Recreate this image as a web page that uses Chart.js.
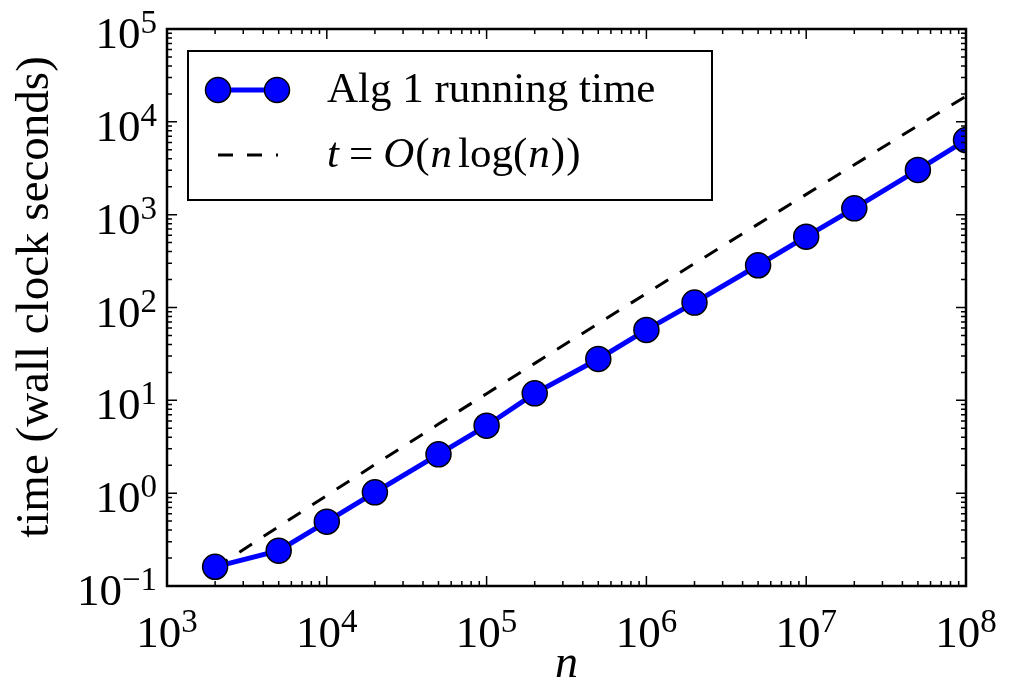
<!DOCTYPE html>
<html>
<head>
<meta charset="utf-8">
<script src="https://cdn.jsdelivr.net/npm/chart.js@4.4.1/dist/chart.umd.min.js"></script>
<style>
  html, body { margin: 0; padding: 0; background: #fff; }
  #wrap { width: 1013px; height: 684px; position: relative; }
</style>
</head>
<body>
<div id="wrap"><canvas id="timingChart"></canvas></div>
<script>
// problem sizes n
const nValues = [2e3, 5e3, 1e4, 2e4, 5e4, 1e5, 2e5, 5e5, 1e6, 2e6, 5e6, 1e7, 2e7, 5e7, 1e8];
const runTimes = [0.161, 0.240, 0.493, 1.02, 2.62, 5.33, 11.9, 27.9, 57.3, 113, 285, 579, 1170, 3030, 6370];
// reference curve t = O(n log n), dashed
const refTimes = [0.156, 0.437, 0.945, 2.03, 5.55, 11.8, 25.0, 67.3, 142, 298, 791, 1654, 3450, 9095, 18900];
// decade tick labels (exponents of 10)
const xTickExps = [3, 4, 5, 6, 7, 8];
const yTickExps = [-1, 0, 1, 2, 3, 4, 5];
const seriesLabel = 'Alg 1 running time';
const xTitle = 'n';
const yTitle = 'time (wall clock seconds)';

const SERIF = '"Liberation Serif", "Times New Roman", serif';
const BLUE = '#0000ff';
const DASH = [15, 14];

// "10" + superscript exponent, like matplotlib mathtext
function drawPow(ctx, exp, x, baseline, align) {
    const main = '10';
    const sup = String(exp).replace('-', '\u2212');
    ctx.font = '45px ' + SERIF;
    const wMain = ctx.measureText(main).width;
    ctx.font = '33px ' + SERIF;
    const wSup = ctx.measureText(sup).width;
    const total = wMain + wSup;
    let x0 = align === 'right' ? x - total : x - total / 2;
    ctx.textAlign = 'left';
    ctx.textBaseline = 'alphabetic';
    ctx.font = '45px ' + SERIF;
    ctx.fillText(main, x0, baseline);
    ctx.font = '33px ' + SERIF;
    ctx.fillText(sup, x0 + wMain, baseline - 15);
}

const mplAxes = {
    id: 'mplAxes',
    afterDatasetsDraw(chart) {
        const ctx = chart.ctx;
        const a = chart.chartArea;
        const xs = chart.scales.x, ys = chart.scales.y;
        ctx.save();
        ctx.strokeStyle = '#000';
        ctx.fillStyle = '#000';
        ctx.lineWidth = 1.5;

        // ticks point inwards on all four sides
        const tick = (px, len, vertical) => {
            ctx.beginPath();
            if (vertical) {
                ctx.moveTo(px, a.bottom); ctx.lineTo(px, a.bottom - len);
                ctx.moveTo(px, a.top); ctx.lineTo(px, a.top + len);
            } else {
                ctx.moveTo(a.left, px); ctx.lineTo(a.left + len, px);
                ctx.moveTo(a.right, px); ctx.lineTo(a.right - len, px);
            }
            ctx.stroke();
        };
        for (let i = 0; i < xTickExps.length; i++) {
            const e = xTickExps[i];
            tick(xs.getPixelForValue(Math.pow(10, e)), 10, true);
            if (i < xTickExps.length - 1) {
                for (let m = 2; m <= 9; m++) tick(xs.getPixelForValue(m * Math.pow(10, e)), 5, true);
            }
        }
        for (let i = 0; i < yTickExps.length; i++) {
            const e = yTickExps[i];
            tick(ys.getPixelForValue(Math.pow(10, e)), 10, false);
            if (i < yTickExps.length - 1) {
                for (let m = 2; m <= 9; m++) tick(ys.getPixelForValue(m * Math.pow(10, e)), 5, false);
            }
        }

        // frame
        ctx.lineWidth = 2.5;
        ctx.strokeRect(a.left, a.top, a.right - a.left, a.bottom - a.top);

        // tick labels
        xTickExps.forEach(e => drawPow(ctx, e, xs.getPixelForValue(Math.pow(10, e)), a.bottom + 61, 'center'));
        yTickExps.forEach(e => drawPow(ctx, e, a.left - 10, ys.getPixelForValue(Math.pow(10, e)) + 19, 'right'));

        // axis titles
        ctx.textAlign = 'center';
        ctx.font = 'italic 46px ' + SERIF;
        ctx.fillText(xTitle, (a.left + a.right) / 2, a.bottom + 91);
        ctx.save();
        ctx.translate(48, 297);
        ctx.rotate(-Math.PI / 2);
        ctx.font = '47px ' + SERIF;
        ctx.fillText(yTitle, 0, 0);
        ctx.restore();

        // legend
        const lx = a.left + 21, ly = a.top + 22, lw = 524, lh = 149;
        ctx.fillStyle = '#fff';
        ctx.fillRect(lx, ly, lw, lh);
        ctx.lineWidth = 2;
        ctx.strokeStyle = '#000';
        ctx.strokeRect(lx, ly, lw, lh);

        const s0 = lx + 30, s1 = lx + 89;
        const r1 = ly + 39, r2 = ly + 104;
        ctx.strokeStyle = BLUE;
        ctx.lineWidth = 5;
        ctx.beginPath(); ctx.moveTo(s0, r1); ctx.lineTo(s1, r1); ctx.stroke();
        [s0, s1].forEach(cx => {
            ctx.beginPath();
            ctx.arc(cx, r1, 12.5, 0, Math.PI * 2);
            ctx.fillStyle = BLUE; ctx.fill();
            ctx.lineWidth = 1.5; ctx.strokeStyle = '#000'; ctx.stroke();
        });
        ctx.strokeStyle = '#000';
        ctx.lineWidth = 3;
        ctx.setLineDash(DASH);
        ctx.beginPath(); ctx.moveTo(s0, r2); ctx.lineTo(s1 + 1, r2); ctx.stroke();
        ctx.setLineDash([]);

        ctx.fillStyle = '#000';
        ctx.textAlign = 'left';
        ctx.font = '43px ' + SERIF;
        ctx.fillText(seriesLabel, lx + 139, ly + 51);

        // t = O(n log(n)) as mixed italic / roman text, with mathtext-like gaps
        const pieces = [['t', true, 0], ['=', false, 10], ['O', true, 10], ['(', false, 1], ['n', true, 1],
                        ['log', false, 6], ['(', false, 0], ['n', true, 1], [')', false, 1], [')', false, 1]];
        let tx = lx + 139;
        pieces.forEach(([txt, it, gap]) => {
            tx += gap;
            ctx.font = (it ? 'italic ' : '') + '43px ' + SERIF;
            ctx.fillText(txt, tx, ly + 116);
            tx += ctx.measureText(txt).width;
        });
        ctx.restore();
    }
};

const ctx = document.getElementById('timingChart').getContext('2d');

new Chart(ctx, {
    type: 'line',
    data: {
        datasets: [
            {
                label: 't = O(n log(n))',
                data: nValues.map((n, i) => ({ x: n, y: refTimes[i] })),
                borderColor: '#000',
                borderWidth: 3,
                borderDash: DASH,
                pointRadius: 0,
                fill: false,
                tension: 0,
                clip: 0,
                order: 2
            },
            {
                label: seriesLabel,
                data: nValues.map((n, i) => ({ x: n, y: runTimes[i] })),
                borderColor: BLUE,
                borderWidth: 5,
                pointRadius: 12.5,
                pointBackgroundColor: BLUE,
                pointBorderColor: '#000',
                pointBorderWidth: 1.5,
                fill: false,
                tension: 0,
                clip: 0,
                order: 1
            }
        ]
    },
    options: {
        responsive: true,
        maintainAspectRatio: false,
        animation: false,
        layout: { padding: { left: 167, right: 47, top: 29, bottom: 98 } },
        plugins: {
            legend: { display: false },
            tooltip: { enabled: false }
        },
        scales: {
            x: { type: 'logarithmic', min: 1e3, max: 1e8, display: false },
            y: { type: 'logarithmic', min: 0.1, max: 1e5, display: false }
        }
    },
    plugins: [mplAxes]
});
</script>
</body>
</html>
